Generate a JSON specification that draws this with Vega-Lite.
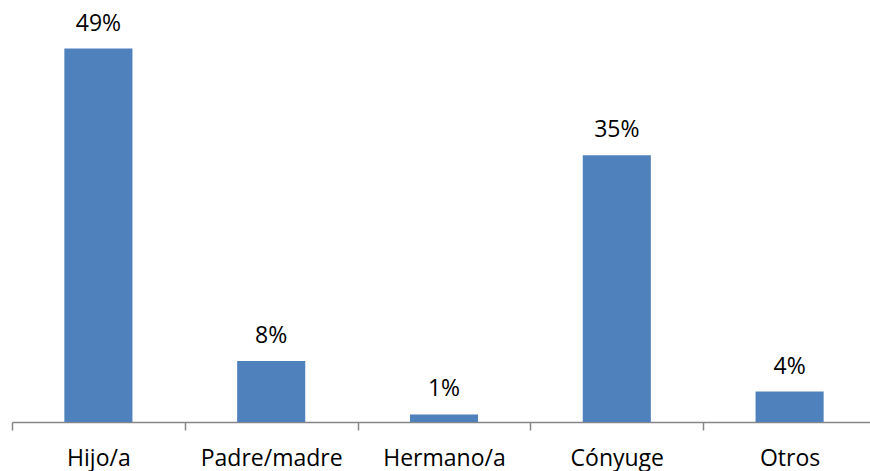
{
  "$schema": "https://vega.github.io/schema/vega-lite/v6.json",
  "autosize": {"type": "none"},
  "width": 858,
  "height": 381,
  "padding": {"left": 12, "top": 41, "right": 0, "bottom": 49},
  "background": "white",
  "config": {"view": {"stroke": null}, "font": "Open Sans"},
  "data": {"values": [
    {"cat": "Hijo/a", "v": 0.49},
    {"cat": "Padre/madre", "v": 0.08},
    {"cat": "Hermano/a", "v": 0.01},
    {"cat": "Cónyuge", "v": 0.35},
    {"cat": "Otros", "v": 0.04}
  ]},
  "encoding": {
    "x": {"field": "cat", "type": "nominal", "sort": null,
      "scale": {"range": [0, 864], "paddingInner": 0, "paddingOuter": 0},
      "axis": {"title": null, "labelAngle": 0, "labelFontSize": 23, "labelFont": "Open Sans", "labelColor": "#000000",
        "labelBaseline": "alphabetic", "labelPadding": 35, "tickSize": 8, "tickBand": "extent",
        "domainColor": "#868686", "tickColor": "#868686", "domainWidth": 1.5, "tickWidth": 1.5}},
    "y": {"field": "v", "type": "quantitative", "scale": {"domain": [0, 0.5]}, "axis": null}
  },
  "layer": [
    {"mark": {"type": "bar", "color": "#4F81BD", "width": {"band": 0.394}}},
    {"mark": {"type": "text", "baseline": "alphabetic", "dy": -18, "fontSize": 23, "font": "Open Sans", "color": "#000000"},
      "encoding": {"text": {"field": "v", "type": "quantitative", "format": ".0%"}}}
  ]
}
